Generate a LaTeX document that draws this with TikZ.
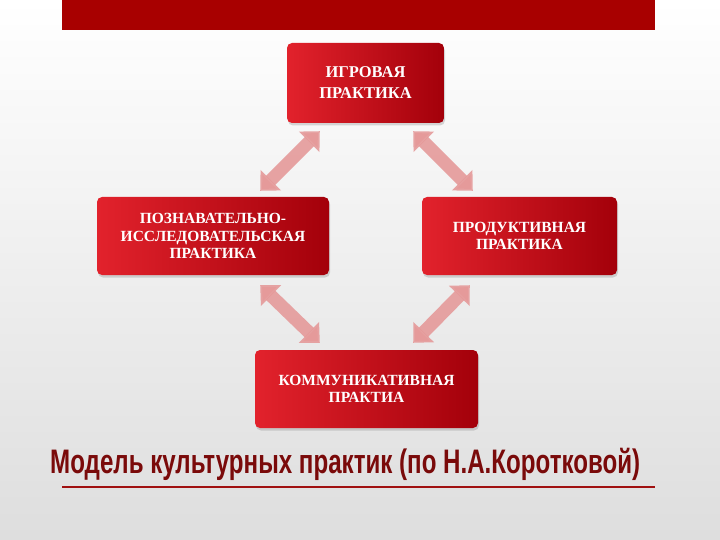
\documentclass[tikz,border=0pt]{standalone}
\usepackage{fontspec}
\setmainfont{Liberation Serif}
\newfontfamily\titlefont{Liberation Sans}
\usetikzlibrary{arrows.meta,shadows,calc}
\definecolor{barred}{HTML}{A80000}
\definecolor{boxlight}{HTML}{E2222C}
\definecolor{boxdark}{HTML}{A3000A}
\definecolor{arrcol}{HTML}{E59A9A}
\definecolor{titlecol}{HTML}{7A0A0A}
\definecolor{linecol}{HTML}{A01010}
\begin{document}
\begin{tikzpicture}[x=1pt,y=-1pt,
  box/.style={rounded corners=5pt, left color=boxlight, right color=boxdark, draw=none,
    text=white, align=center, inner sep=0pt,
    font=\bfseries\fontsize{15.5}{17.5}\selectfont,
    drop shadow={opacity=0.3, shadow xshift=1pt, shadow yshift=-2.5pt}},
  arr/.style={line width=13pt, draw=arrcol, draw opacity=0.9,
    {Triangle[width=28pt,length=15pt]}-{Triangle[width=28pt,length=15pt]}}]
\useasboundingbox (0,0) rectangle (720,540);
\shade[top color=white, bottom color=black!13] (0,0) rectangle (720,540);
\fill[barred] (62,0) rectangle (655,30);

\node[box, minimum width=157pt, minimum height=80pt,
  font=\bfseries\fontsize{16.5}{21}\selectfont] (top) at (365.5,83) {ИГРОВАЯ\\ПРАКТИКА};
\node[box, minimum width=232pt, minimum height=78pt] (left) at (213,236)
  {ПОЗНАВАТЕЛЬНО-\\ИССЛЕДОВАТЕЛЬСКАЯ\\ПРАКТИКА};
\node[box, minimum width=195pt, minimum height=78pt] (right) at (519.5,236)
  {ПРОДУКТИВНАЯ\\ПРАКТИКА};
\node[box, minimum width=223pt, minimum height=78pt] (bottom) at (366.5,389)
  {КОММУНИКАТИВНАЯ\\ПРАКТИА};

\coordinate (tl1) at ($(top.south west)+(33,8)$);
\coordinate (tl2) at ($(left.north east)+(-69,-6)$);
\coordinate (tr1) at ($(top.south east)+(-31,8)$);
\coordinate (tr2) at ($(right.north west)+(51,-6)$);
\coordinate (bl1) at ($(left.south east)+(-69,10)$);
\coordinate (bl2) at ($(bottom.north west)+(65,-7)$);
\coordinate (br1) at ($(right.south west)+(48,10)$);
\coordinate (br2) at ($(bottom.north east)+(-65,-7)$);
\draw[arr] (tl1) -- (tl2);
\draw[arr] (tr1) -- (tr2);
\draw[arr] (bl1) -- (bl2);
\draw[arr] (br1) -- (br2);

\node[anchor=west, inner sep=0pt, text=titlecol] (title) at (50,464)
  {\resizebox{590pt}{\height}{\titlefont\bfseries\fontsize{34}{38}\selectfont Модель культурных практик (по Н.А.Коротковой)}};
\draw[linecol, line width=2pt] (62,487) -- (655,487);
\end{tikzpicture}
\end{document}
